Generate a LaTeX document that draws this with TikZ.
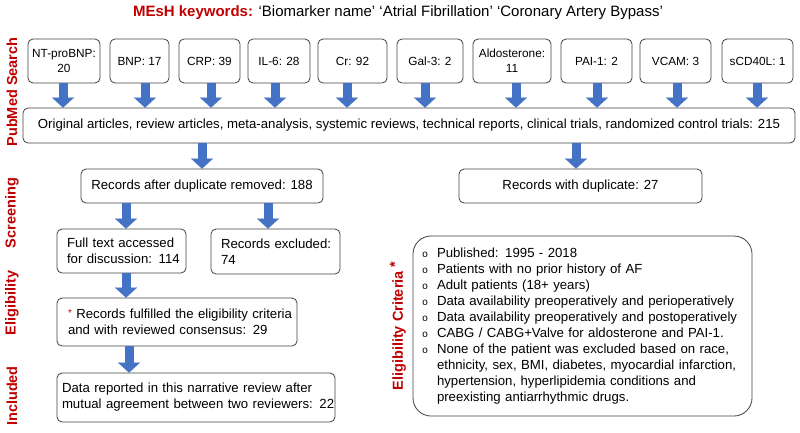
\documentclass[tikz,border=0pt]{standalone}
\usepackage{fontspec}
\setmainfont{Liberation Sans}
\newfontfamily\monof{Liberation Mono}
\usetikzlibrary{arrows.meta}
\definecolor{dred}{HTML}{C00000}
\definecolor{ablue}{HTML}{4472C4}
\definecolor{bgray}{HTML}{404040}
\newcommand{\bul}{\makebox[15pt][l]{{\monof\fontsize{10}{10}\selectfont o}}}
\newcommand{\ind}{\hspace*{15pt}}
\begin{document}
\begin{tikzpicture}[x=1pt,y=-1pt,
  every node/.style={font=\fontsize{13.2}{16}\selectfont},
  box/.style={draw=bgray,line width=0.8pt,rounded corners=5pt,align=center,inner sep=1pt},
  tbox/.style={box,font=\fontsize{11.8}{15}\selectfont,minimum height=44pt},
  lbox/.style={draw=bgray,line width=0.8pt,rounded corners=5pt,align=left},
  blk/.style={draw=ablue,fill=ablue,line width=9pt,-{Triangle[width=22pt,length=10pt,line width=0.1pt]}},
  vlab/.style={rotate=90,text=dred,font=\fontsize{14.5}{16}\selectfont\bfseries}]
\useasboundingbox (0,0) rectangle (800,432);
% title
\node (title) at (398,13) {\fontsize{15}{17}\selectfont\textcolor{dred}{\bfseries MEsH keywords:} ‘Biomarker name’ ‘Atrial Fibrillation’ ‘Coronary Artery Bypass’};
% side labels
\node[vlab] (lpub) at (12,92) {PubMed Search};
\node[vlab] (lscr) at (12,213) {Screening};
\node[vlab] (lelig) at (12,303) {Eligibility};
\node[vlab] (linc) at (12,396) {Included};
\node[vlab] (lcrit) at (398,326) {Eligibility Criteria \raisebox{3pt}{*}};
% top boxes
\node[tbox,minimum width=72pt] (nt) at (64,61) {NT-proBNP:\\20};
\node[tbox,minimum width=59pt] (bnp) at (139.5,61) {BNP: 17};
\node[tbox,minimum width=61pt] (crp) at (209.5,61) {CRP: 39};
\node[tbox,minimum width=62pt] (il6) at (279,61) {IL-6: 28};
\node[tbox,minimum width=69pt] (cr) at (352.5,61) {Cr: 92};
\node[tbox,minimum width=66pt] (gal) at (430,61) {Gal-3: 2};
\node[tbox,minimum width=78pt] (ald) at (512,61) {Aldosterone:\\11};
\node[tbox,minimum width=71pt] (pai) at (596.5,61) {PAI-1: 2};
\node[tbox,minimum width=71pt] (vcam) at (675.5,61) {VCAM: 3};
\node[tbox,minimum width=71pt] (scd) at (757.5,61) {sCD40L: 1};
% big box
\node[box,minimum width=772pt,minimum height=35pt] (orig) at (409,125.5) {Original articles, review articles, meta-analysis, systemic reviews, technical reports, clinical trials, randomized control trials: 215};
% screening
\node[box,minimum width=242pt,minimum height=34pt] (rem) at (202,186) {Records after duplicate removed: 188};
\node[box,minimum width=243pt,minimum height=34pt] (wdup) at (580.5,186) {Records with duplicate: 27};
\node[lbox,text width=109pt,inner xsep=10pt,minimum height=44pt] (full) at (121.5,251) {\mbox{Full text accessed}\\\mbox{for discussion: 114}};
\node[lbox,text width=109pt,inner xsep=10pt,minimum height=45pt] (excl) at (275.5,251.5) {\mbox{Records excluded:}\\74};
\node[lbox,text width=218pt,inner xsep=11pt,minimum height=48pt] (ful) at (177,322) {\mbox{\textcolor{dred}{\raisebox{2pt}{\fontsize{10}{10}\selectfont*}} Records fulfilled the eligibility criteria}\\\mbox{and with reviewed consensus: 29}};
\node[lbox,text width=268pt,inner xsep=5pt,minimum height=49pt] (data) at (196,397.5) {\mbox{Data reported in this narrative review after}\\\mbox{mutual agreement between two reviewers: 22}};
% criteria
\node[lbox,rounded corners=18pt,text width=321pt,inner xsep=9pt,minimum height=180pt] (crit) at (582.5,326) {\bul Published: 1995 - 2018\\
\bul Patients with no prior history of AF\\
\bul Adult patients (18+ years)\\
\bul Data availability preoperatively and perioperatively\\
\bul Data availability preoperatively and postoperatively\\
\bul CABG / CABG+Valve for aldosterone and PAI-1.\\
\bul None of the patient was excluded based on race,\\
\ind ethnicity, sex, BMI, diabetes, myocardial infarction,\\
\ind hypertension, hyperlipidemia conditions and\\
\ind preexisting antiarrhythmic drugs.};
% arrows
\draw[blk] ([xshift=-1pt]nt.south) -- ([xshift=-1pt]nt.south |- orig.north);
\draw[blk] ([xshift=5.5pt]bnp.south) -- ([xshift=5.5pt]bnp.south |- orig.north);
\draw[blk] ([xshift=1.5pt]crp.south) -- ([xshift=1.5pt]crp.south |- orig.north);
\draw[blk] ([xshift=-4pt]il6.south) -- ([xshift=-4pt]il6.south |- orig.north);
\draw[blk] ([xshift=-5.5pt]cr.south) -- ([xshift=-5.5pt]cr.south |- orig.north);
\draw[blk] ([xshift=-5pt]gal.south) -- ([xshift=-5pt]gal.south |- orig.north);
\draw[blk] ([xshift=4pt]ald.south) -- ([xshift=4pt]ald.south |- orig.north);
\draw[blk] ([xshift=0.5pt]pai.south) -- ([xshift=0.5pt]pai.south |- orig.north);
\draw[blk] ([xshift=1.5pt]vcam.south) -- ([xshift=1.5pt]vcam.south |- orig.north);
\draw[blk] ([xshift=-0.5pt]scd.south) -- ([xshift=-0.5pt]scd.south |- orig.north);
\draw[blk] (rem.north |- orig.south) -- (rem.north);
\draw[blk] ([xshift=-4.5pt]wdup.north |- orig.south) -- ([xshift=-4.5pt]wdup.north);
\draw[blk] (full.north |- rem.south) ++(4.5pt,0) coordinate (a1) (a1) -- (a1 |- full.north);
\draw[blk] (excl.north |- rem.south) ++(-7.5pt,0) coordinate (a2) (a2) -- (a2 |- excl.north);
\draw[blk] (a1 |- full.south) -- (a1 |- ful.north);
\draw[blk] ([xshift=-48pt]ful.south) -- ([xshift=-48pt]ful.south |- data.north);
\end{tikzpicture}
\end{document}
